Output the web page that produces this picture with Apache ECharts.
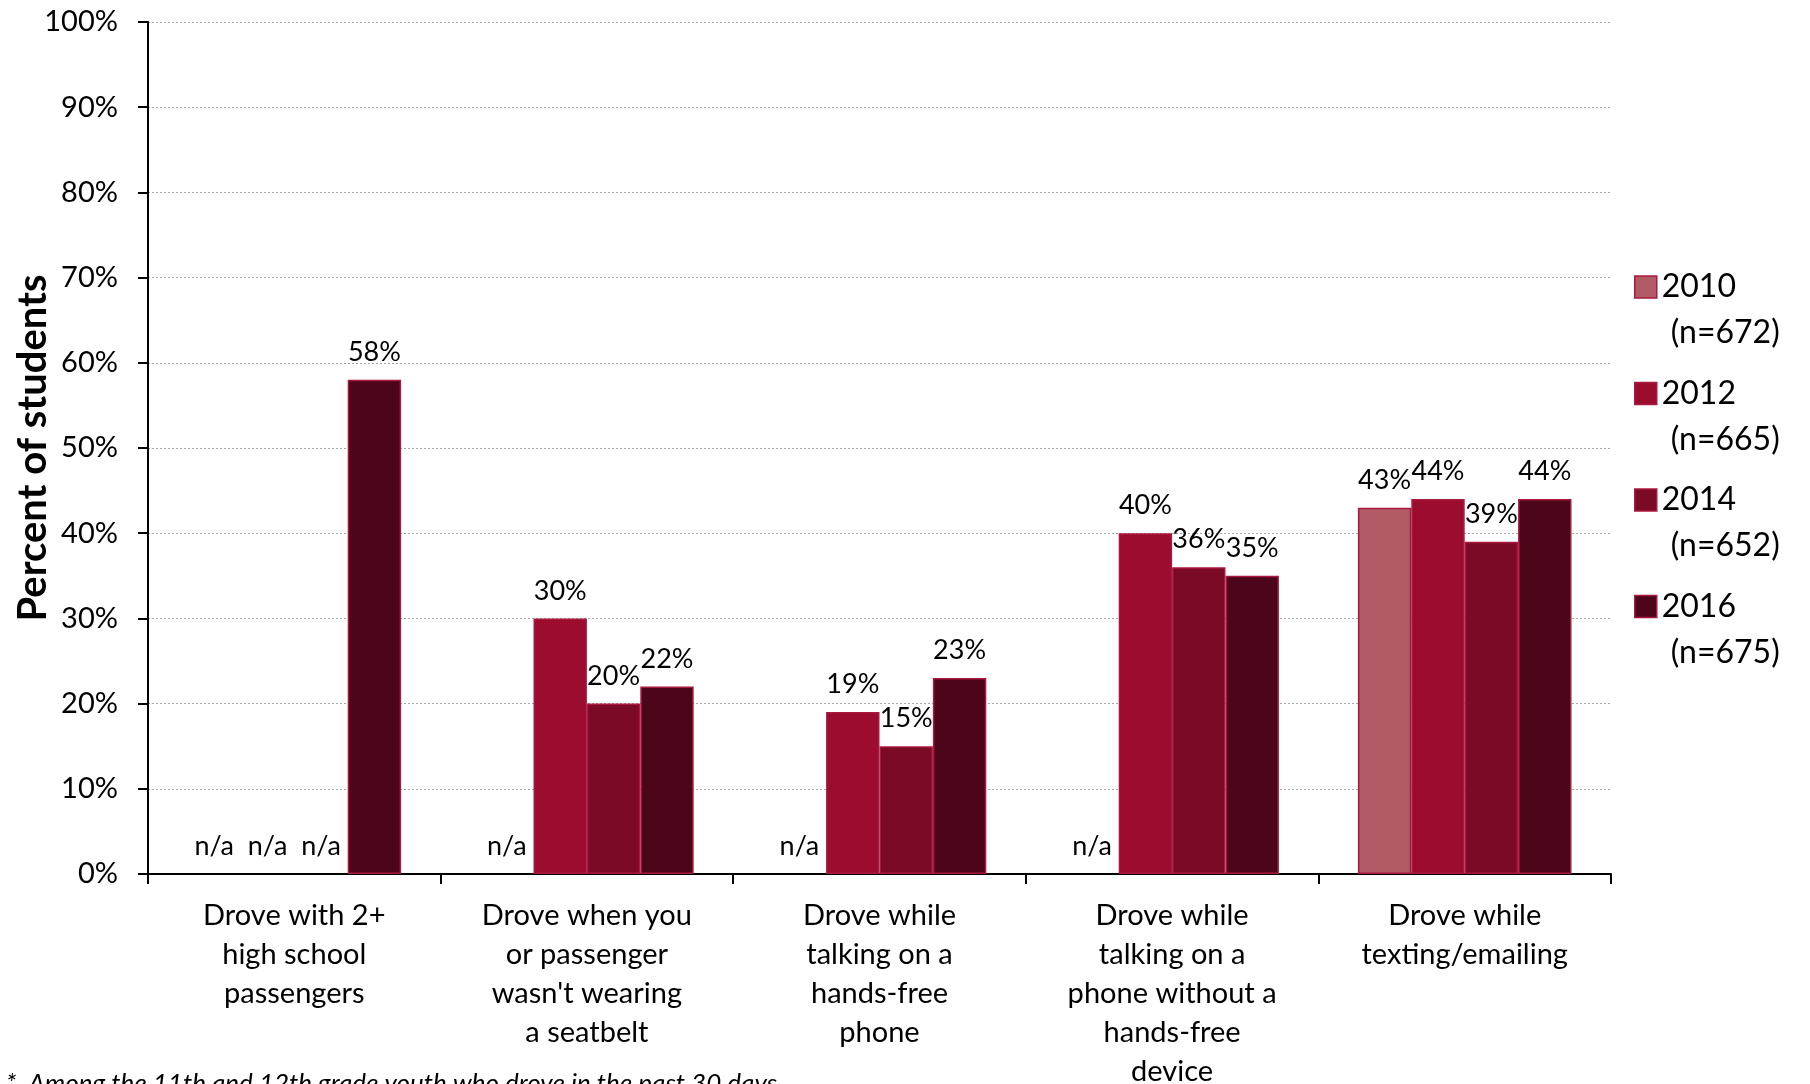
<!DOCTYPE html>
<html>
<head>
<meta charset="utf-8">
<script src="https://cdn.jsdelivr.net/npm/echarts@6/dist/echarts.min.js"></script>
<style>
html,body{margin:0;padding:0;background:#fff;}
#chart{width:1810px;height:1084px;}
</style>
</head>
<body>
<div id="chart"></div>
<script>
// ---- data ----
var categories = [
  'Drove with 2+\nhigh school\npassengers',
  'Drove when you\nor passenger\nwasn\'t wearing\na seatbelt',
  'Drove while\ntalking on a\nhands-free\nphone',
  'Drove while\ntalking on a\nphone without a\nhands-free\ndevice',
  'Drove while\ntexting/emailing'
];
var seriesNames = ['2010', '2012', '2014', '2016'];
var seriesN = ['(n=672)', '(n=665)', '(n=652)', '(n=675)'];
// null = n/a
var values2010 = [null, null, null, null, 43];
var values2012 = [null, 30, 19, 40, 44];
var values2014 = [null, 20, 15, 36, 39];
var values2016 = [58, 22, 23, 35, 44];
var yTicks = [0, 10, 20, 30, 40, 50, 60, 70, 80, 90, 100];
var footnote = '*  Among the 11th and 12th grade youth who drove in the past 30 days';

var colors = ['#B05B65', '#9B0C2F', '#7B0A27', '#4D0519'];
var FONT = 'Lato';

function buildData(arr) {
  return arr.map(function (v) {
    if (v === null) {
      return { value: 0, isNA: true, itemStyle: { borderWidth: 0, color: 'rgba(0,0,0,0)' } };
    }
    return { value: v };
  });
}

var allValues = [values2010, values2012, values2014, values2016];
var series = allValues.map(function (arr, i) {
  return {
    name: seriesNames[i],
    type: 'bar',
    data: buildData(arr),
    barGap: '0%',
    barCategoryGap: '27%',
    itemStyle: { color: colors[i], borderColor: '#A8183F', borderWidth: 1.5 },
    label: {
      show: true,
      position: 'top',
      distance: 14,
      fontFamily: FONT,
      fontSize: 27,
      color: '#000',
      formatter: function (p) { return p.data.isNA ? 'n/a' : p.value + '%'; }
    }
  };
});

var chart = echarts.init(document.getElementById('chart'), null, { renderer: 'canvas' });
chart.setOption({
  animation: false,
  backgroundColor: '#fff',
  grid: { left: 148, right: 199, top: 22, bottom: 210, containLabel: false, outerBoundsMode: 'none' },
  legend: {
    orient: 'vertical',
    left: 1634,
    top: 225,
    padding: 0,
    itemWidth: 22,
    itemHeight: 22,
    itemGap: -17.5,
    itemTextGap: 12,
    icon: 'rect',
    data: seriesNames,
    formatter: function (name) {
      var i = seriesNames.indexOf(name);
      return '{c| }\n{a|' + name + '}\n{b|' + seriesN[i] + '}';
    },
    textStyle: {
      fontFamily: FONT,
      fontSize: 32,
      color: '#000',
      rich: {
        c: { fontFamily: FONT, fontSize: 32, lineHeight: 46 },
        a: { fontFamily: FONT, fontSize: 32, lineHeight: 46, color: '#000' },
        b: { fontFamily: FONT, fontSize: 32, lineHeight: 46, color: '#000', padding: [0, 0, 0, 9] }
      }
    },
    itemStyle: { borderColor: '#A8183F', borderWidth: 1.5 }
  },
  xAxis: {
    type: 'category',
    data: categories,
    axisLine: { lineStyle: { color: '#000', width: 2 } },
    axisTick: { show: true, length: 10, lineStyle: { color: '#000', width: 2 } },
    axisLabel: {
      interval: 0,
      margin: 22,
      fontFamily: FONT,
      fontSize: 29,
      lineHeight: 39,
      color: '#000',
      align: 'center'
    }
  },
  yAxis: {
    type: 'value',
    min: yTicks[0],
    max: yTicks[yTicks.length - 1],
    interval: yTicks[1] - yTicks[0],
    name: 'Percent of students',
    nameLocation: 'middle',
    nameRotate: 90,
    nameGap: 95,
    nameMoveOverlap: false,
    nameTextStyle: { fontFamily: FONT, fontSize: 40, fontWeight: 'bold', color: '#000' },
    axisLine: { show: true, lineStyle: { color: '#000', width: 2 } },
    axisTick: { show: true, length: 10, lineStyle: { color: '#000', width: 2 } },
    axisLabel: {
      margin: 30,
      fontFamily: FONT,
      fontSize: 29,
      color: '#000',
      formatter: '{value}%'
    },
    splitLine: { show: true, lineStyle: { color: '#A6A6A6', width: 1, type: [2, 2] } }
  },
  graphic: [{
    type: 'text',
    left: 6,
    top: 1071,
    style: { text: footnote, fontFamily: FONT, fontSize: 26, fontStyle: 'italic', fill: '#000' }
  }],
  series: series
});
</script>
</body>
</html>
